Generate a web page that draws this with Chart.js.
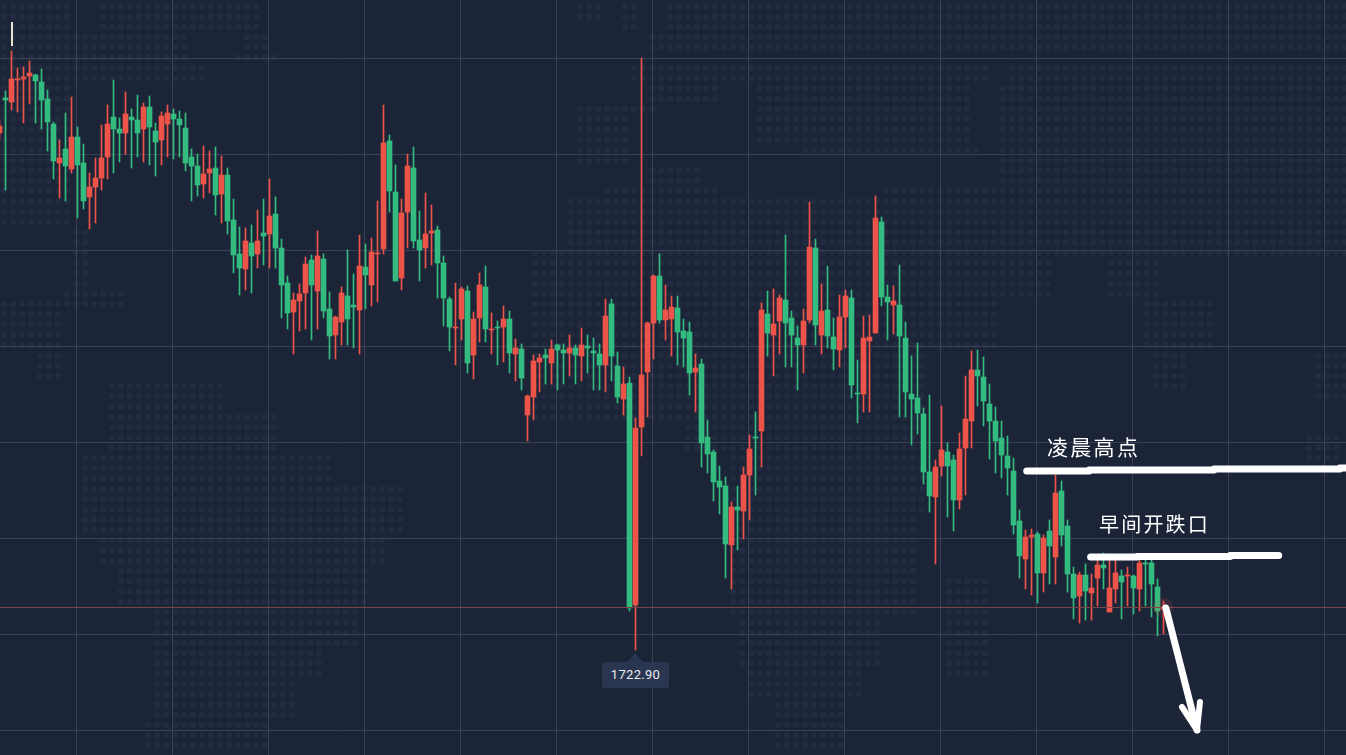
<!DOCTYPE html>
<html>
<head>
<meta charset="utf-8">
<title>K线</title>
<script src="https://cdn.jsdelivr.net/npm/chart.js@4"></script>
<style>
html, body { margin: 0; padding: 0; background: #1c2438; overflow: hidden; }
#wrap { position: relative; width: 1346px; height: 755px; }
canvas { position: absolute; left: 0; top: 0; display: block; }
.note { position: absolute; color: #fff; font-family: "Noto Sans CJK SC", sans-serif; white-space: nowrap; line-height: 1; }
#note1 { left: 1047px; top: 436px; font-size: 21px; letter-spacing: 2.3px; }
#note2 { left: 1099px; top: 514px; font-size: 20px; letter-spacing: 2.2px; }
#cursor { position: absolute; left: 11px; top: 22px; width: 2px; height: 24px; background: #e8e4d4; }
#lowTag { position: absolute; top: 662px; width: 67px; height: 26px; line-height: 26px; text-align: center; background: #2a3550; border-radius: 3px;
  color: #e8ecf2; font-family: Roboto, sans-serif; font-size: 13px; letter-spacing: 0.3px; }
#lowTag:before { content: ""; position: absolute; left: 25px; top: -9px; border-left: 8px solid transparent; border-right: 8px solid transparent; border-bottom: 9px solid #2a3550; }
</style>
</head>
<body>
<div id="wrap">
  <canvas id="graf" width="1346" height="755"></canvas>
  <div id="cursor"></div>
  <div class="note" id="note1">凌晨高点</div>
  <div class="note" id="note2">早间开跌口</div>
  <div id="lowTag"></div>
</div>
<script>
// svíčky přečtené z obrázku
const highs = [
  1775.9,1778.8,1782.8,1781.1,1781.2,1781.8,1780.5,1781.0,1778.9,1775.7,
  1773.9,1776.6,1778.2,1775.2,1773.5,1770.6,1772.1,1775.4,1777.4,1779.9,
  1776.1,1778.7,1777.0,1778.4,1777.6,1778.3,1775.6,1776.7,1777.4,1777.0,
  1776.8,1776.6,1773.0,1772.5,1773.3,1772.8,1773.2,1772.3,1771.1,1768.0,
  1765.2,1765.1,1765.4,1766.9,1768.0,1770.0,1768.2,1764.0,1760.3,1758.6,
  1759.5,1762.2,1762.4,1764.8,1762.5,1758.7,1756.3,1759.2,1762.9,1760.5,
  1764.4,1763.5,1764.1,1767.8,1777.4,1774.4,1771.4,1768.0,1772.5,1773.2,
  1766.8,1768.6,1767.4,1765.3,1762.3,1758.2,1759.6,1759.2,1759.3,1756.7,
  1760.6,1761.3,1756.6,1755.8,1757.3,1756.8,1754.0,1753.5,1748.4,1752.4,
  1752.5,1753.0,1753.9,1753.5,1753.5,1754.4,1753.4,1755.1,1754.4,1754.1,
  1753.5,1758.0,1758.0,1752.7,1751.2,1750.2,1746.1,1782.1,1755.7,1760.4,
  1762.5,1759.4,1758.3,1758.3,1756.0,1755.7,1752.5,1752.0,1745.9,1742.9,
  1741.3,1740.2,1737.7,1739.3,1741.2,1744.4,1746.7,1757.6,1758.8,1759.0,
  1758.4,1764.4,1756.8,1755.3,1757.0,1767.7,1764.0,1759.5,1761.3,1756.1,
  1758.4,1758.9,1758.9,1751.9,1756.3,1756.4,1768.3,1766.2,1759.4,1759.3,
  1761.4,1755.7,1752.3,1753.6,1747.1,1748.4,1741.9,1747.3,1743.6,1742.4,
  1744.6,1750.3,1752.8,1752.9,1752.2,1749.5,1747.2,1745.8,1744.3,1742.1,
  1736.9,1734.9,1735.0,1734.7,1734.4,1735.9,1740.4,1739.8,1735.9,1731.2,
  1730.7,1731.5,1730.5,1731.9,1732.6,1731.9,1731.9,1730.9,1731.2,1730.4,
  1731.9,1731.9,1731.9,1730.0,1727.8
];
const lows = [
  1773.9,1768.9,1776.9,1776.7,1775.6,1777.5,1775.6,1775.0,1772.8,1770.0,
  1768.1,1767.8,1770.6,1766.1,1767.0,1765.0,1765.6,1768.9,1770.0,1770.6,
  1771.7,1772.5,1771.1,1772.2,1771.7,1771.4,1770.3,1771.4,1772.2,1772.0,
  1772.2,1770.8,1767.8,1768.3,1768.1,1768.6,1766.4,1765.6,1764.5,1760.6,
  1758.4,1758.9,1758.6,1761.1,1761.4,1761.1,1761.1,1756.1,1755.0,1752.5,
  1754.8,1755.0,1753.9,1755.0,1756.1,1752.0,1752.0,1753.4,1753.4,1753.1,
  1752.5,1757.0,1757.3,1757.7,1762.5,1766.7,1759.8,1758.9,1763.1,1763.1,
  1759.8,1761.1,1761.4,1758.1,1755.3,1752.8,1751.4,1753.9,1750.6,1750.0,
  1753.7,1753.7,1752.5,1751.4,1751.7,1750.6,1749.8,1748.9,1743.8,1745.9,
  1748.7,1749.5,1749.5,1748.9,1749.5,1750.3,1749.5,1749.8,1750.6,1748.9,
  1748.9,1748.7,1749.8,1747.6,1746.4,1726.8,1722.9,1742.3,1746.2,1752.0,
  1755.6,1753.9,1752.3,1751.4,1751.2,1748.4,1746.7,1741.2,1740.6,1737.8,
  1736.5,1730.1,1729.0,1732.9,1734.0,1735.9,1738.4,1741.2,1752.3,1750.3,
  1752.5,1751.2,1751.2,1748.9,1750.6,1755.6,1753.4,1752.5,1753.1,1750.9,
  1751.2,1753.1,1748.1,1745.6,1746.7,1746.7,1754.6,1757.3,1753.9,1754.5,
  1746.2,1746.2,1743.4,1744.5,1739.5,1736.7,1731.5,1740.3,1736.2,1734.8,
  1737.0,1738.4,1743.1,1747.3,1745.3,1742.0,1740.6,1740.1,1738.4,1734.5,
  1730.1,1729.0,1728.4,1727.6,1728.7,1729.5,1729.5,1733.3,1728.7,1726.0,
  1725.6,1725.9,1725.9,1727.3,1729.0,1726.7,1727.6,1726.0,1727.3,1726.5,
  1726.8,1727.3,1726.2,1724.3,1724.5
];
const opens = [
  1774.6,1778.1,1777.7,1779.9,1780.0,1780.3,1780.4,1779.7,1778.0,1775.5,
  1771.6,1773.0,1771.0,1774.2,1771.6,1768.2,1769.2,1770.1,1772.2,1776.2,
  1775.0,1774.6,1776.2,1775.9,1775.0,1777.2,1774.8,1773.9,1775.5,1776.5,
  1776.0,1775.1,1772.2,1771.3,1769.5,1770.6,1771.1,1768.5,1770.4,1765.9,
  1762.5,1761.0,1763.6,1762.5,1764.6,1764.5,1766.5,1763.1,1759.6,1756.7,
  1757.8,1758.6,1761.9,1758.8,1762.0,1757.0,1754.4,1755.7,1758.3,1757.4,
  1756.9,1761.2,1759.4,1762.5,1763.0,1773.8,1768.7,1760.1,1766.7,1771.1,
  1763.9,1763.1,1764.6,1764.9,1761.6,1758.0,1755.1,1756.0,1758.8,1752.4,
  1756.1,1759.2,1754.9,1755.2,1755.2,1756.0,1752.5,1753.0,1746.4,1748.2,
  1751.7,1752.4,1751.6,1753.4,1752.9,1752.6,1753.1,1752.3,1753.3,1752.8,
  1752.5,1751.4,1757.5,1751.3,1748.0,1749.6,1727.4,1745.2,1750.7,1755.6,
  1760.3,1755.9,1756.0,1757.1,1754.8,1754.7,1750.7,1751.5,1744.2,1742.7,
  1739.8,1739.3,1733.4,1737.2,1736.8,1740.4,1744.2,1744.8,1756.5,1754.4,
  1755.8,1757.9,1756.1,1754.1,1753.4,1755.9,1763.1,1754.4,1756.9,1754.2,
  1752.9,1756.2,1758.1,1748.6,1748.5,1753.8,1754.6,1765.7,1758.2,1757.4,
  1757.4,1754.1,1748.5,1748.1,1746.5,1740.7,1738.2,1741.3,1742.7,1741.9,
  1737.9,1743.1,1745.8,1750.9,1750.2,1747.5,1745.8,1744.1,1742.3,1740.8,
  1735.8,1732.0,1734.2,1734.5,1730.6,1734.8,1732.2,1738.8,1735.3,1730.5,
  1728.3,1730.4,1728.6,1730.1,1731.4,1726.7,1729.0,1730.3,1730.3,1730.3,
  1729.0,1731.6,1731.6,1729.2,1727.0
];
const closes = [
  1775.3,1777.9,1780.0,1780.0,1780.2,1780.6,1779.8,1777.9,1775.7,1771.8,
  1772.1,1771.3,1774.2,1771.4,1767.8,1769.2,1770.1,1772.1,1775.5,1775.0,
  1774.6,1776.5,1775.9,1774.6,1777.2,1775.2,1773.7,1776.3,1776.6,1776.0,
  1775.4,1771.6,1771.3,1769.4,1770.5,1771.0,1768.4,1770.4,1765.8,1762.4,
  1761.1,1763.8,1762.3,1763.8,1764.3,1766.3,1763.1,1759.4,1756.6,1757.9,
  1758.5,1761.5,1759.4,1762.3,1756.8,1754.3,1756.2,1758.6,1756.0,1757.2,
  1761.3,1760.4,1762.7,1762.6,1773.6,1768.8,1759.8,1766.6,1771.3,1763.8,
  1762.9,1764.5,1764.8,1761.6,1758.1,1755.2,1755.2,1759.0,1751.6,1756.0,
  1759.4,1755.0,1755.0,1755.1,1756.0,1752.6,1753.1,1750.1,1748.3,1751.8,
  1752.1,1752.1,1753.0,1752.9,1752.6,1753.1,1752.4,1753.4,1753.1,1752.6,
  1751.4,1756.3,1752.3,1748.2,1749.5,1727.1,1745.1,1750.4,1755.6,1760.3,
  1755.9,1756.9,1757.2,1754.7,1754.1,1750.6,1751.1,1743.6,1742.5,1739.7,
  1739.2,1733.5,1737.2,1736.9,1740.4,1743.0,1744.1,1756.9,1754.6,1755.5,
  1758.1,1755.6,1754.4,1753.4,1755.8,1763.2,1755.4,1756.8,1754.3,1753.0,
  1756.2,1758.3,1749.4,1748.5,1754.1,1754.2,1766.1,1758.2,1757.7,1757.8,
  1754.3,1748.7,1748.0,1746.6,1740.7,1738.3,1741.2,1742.9,1741.3,1737.9,
  1743.0,1746.0,1750.9,1750.3,1747.8,1745.8,1743.8,1742.4,1741.1,1735.4,
  1732.3,1734.2,1734.4,1730.6,1734.1,1733.3,1738.6,1734.4,1730.5,1728.1,
  1730.4,1728.8,1729.1,1731.4,1731.1,1729.1,1730.6,1729.7,1730.4,1729.1,
  1731.6,1731.5,1729.5,1726.8,1727.15
];
const gridIndexes = [12.83,28.83,44.83,60.83,76.83,92.83,108.83,124.83,140.83,156.83,172.83,188.83,204.83,220.83];
const gridPrices = [1782.05,1772.45,1762.85,1753.25,1743.65,1734.05,1724.45,1714.85];
const lowIndex = 106;
const lastIndex = closes.length - 1;

// ručně kreslené čáry na obrázku
const highMarkIdx = [171.2,181.6,202.4,223.4,225];
const highMarkVal = [1740.8,1740.9,1741.0,1741.1,1741.1];
const gapMarkIdx = [181.85,189.6,205.1,213.2];
const gapMarkVal = [1732.2,1732.25,1732.35,1732.35];
const arrowIdx = [194.4,199.58];
const arrowVal = [1727.1,1714.9];
const arrowHeadIdx = [197.08,199.58,200.08];
const arrowHeadVal = [1717.2,1714.9,1717.7];

const UP = "#ec544a", DOWN = "#34bb80";
const BG = "#1c2438", GRID = "#3a4156", DOT = "#232b40";

// tečkovaná mapa na pozadí: obdélníky x0, y0, x1, y1
const mapAreas = [
  [0,0,72,27],[100,0,257,27],[0,27,190,58],[243,37,265,48],[54,58,204,87],[236,55,275,65],
  [0,58,54,225],[54,87,75,225],[75,231,86,284],[65,284,121,308],[0,300,60,350],[40,350,60,385],
  [110,385,220,410],[105,410,280,448],[85,448,330,480],[85,480,400,530],[100,530,390,568],
  [120,568,370,607],[155,607,360,645],[155,645,320,675],[150,675,300,720],[145,720,270,755],
  [575,3,600,17],[620,3,640,33],[670,3,1346,33],[645,33,1346,57],[630,67,985,80],[1010,67,1346,87],
  [645,80,720,100],[755,80,975,143],[995,87,1346,143],[580,105,655,118],[580,118,625,165],
  [800,143,980,160],[1000,143,1346,183],[645,170,700,183],[600,183,720,200],[880,183,1346,200],
  [565,200,1346,257],[560,257,1050,300],[1110,260,1160,300],[530,250,1000,347],[1145,300,1215,347],
  [530,347,930,420],[1155,347,1190,390],[1310,347,1346,400],
  [680,420,930,453],[730,453,925,513],[725,513,920,620],[740,620,885,670],[748,670,865,703],[770,703,843,755],
  [946,580,990,680],[1306,430,1342,467]
];
const mapPlugin = {
  id: "mapa",
  beforeDraw(chart) {
    const c = chart.ctx;
    c.save();
    c.fillStyle = BG;
    c.fillRect(0, 0, chart.width, chart.height);
    c.fillStyle = DOT;
    for (let ry = 6.2; ry < chart.height; ry += 10.27) {
      for (let rx = 4; rx < chart.width; rx += 9) {
        const hit = mapAreas.some(a => rx >= a[0] && rx <= a[2] && ry >= a[1] && ry <= a[3]);
        if (!hit) continue;
        c.beginPath();
        c.arc(rx, ry, 3.2, 0, Math.PI * 2);
        c.fill();
      }
    }
    c.restore();
  }
};

function pairs(xs, ys) { return xs.map((x, i) => ({ x: x, y: ys[i] })); }
function stroke(xs, ys, width, extra) {
  return Object.assign({ type: "line", data: pairs(xs, ys), borderColor: "#ffffff", borderWidth: width,
    borderCapStyle: "round", borderJoinStyle: "round", pointRadius: 0, tension: 0, order: -3 }, extra || {});
}

const candleColors = closes.map((c, i) => c >= opens[i] ? UP : DOWN);

const mujGraf = new Chart(document.getElementById("graf").getContext("2d"), {
  type: "bar",
  data: {
    datasets: [
      stroke(arrowIdx, arrowVal, 7),
      stroke(arrowHeadIdx, arrowHeadVal, 6),
      stroke(highMarkIdx, highMarkVal, 7, { stepped: "before" }),
      stroke(gapMarkIdx, gapMarkVal, 7, { stepped: "before" }),
      { type: "line", data: [{ x: lastIndex, y: closes[lastIndex] }], pointRadius: 10, pointBorderWidth: 0,
        pointBackgroundColor: "rgba(236,84,74,0.13)", showLine: false, order: -2 },
      { type: "line", data: [{ x: lastIndex, y: closes[lastIndex] }], pointRadius: 2, pointBorderWidth: 0,
        pointBackgroundColor: UP, showLine: false, order: -2 },
      { type: "line", data: pairs([0, 225], [closes[lastIndex], closes[lastIndex]]), borderColor: "#7d4448", borderWidth: 1,
        pointRadius: 0, order: -1 },
      { data: closes.map((c, i) => ({ x: i, y: [opens[i], c] })), backgroundColor: candleColors, barThickness: 5, grouped: false, order: 1 },
      { data: highs.map((h, i) => ({ x: i, y: [lows[i], h] })), backgroundColor: candleColors, barThickness: 1, grouped: false, order: 2 }
    ]
  },
  options: {
    responsive: false,
    animation: false,
    layout: { padding: 0, autoPadding: false },
    plugins: { legend: { display: false }, tooltip: { enabled: false } },
    scales: {
      x: {
        type: "linear", offset: false, min: 1 / 12, max: 1 / 12 + 1346 / 6,
        grid: { color: GRID, lineWidth: 1, drawTicks: false, offset: false },
        border: { display: false },
        ticks: { display: false },
        afterBuildTicks(s) { s.ticks = gridIndexes.map(v => ({ value: v })); }
      },
      y: {
        min: 1712.4, max: 1787.9,
        grid: { color: GRID, lineWidth: 1, drawTicks: false },
        border: { display: false },
        ticks: { display: false },
        afterBuildTicks(s) { s.ticks = gridPrices.map(v => ({ value: v })); }
      }
    }
  },
  plugins: [mapPlugin]
});

// štítek s minimem pod dlouhým knotem
const stitek = document.getElementById("lowTag");
stitek.textContent = lows[lowIndex].toFixed(2);
stitek.style.left = (mujGraf.scales.x.getPixelForValue(lowIndex) - 33.5) + "px";
</script>
</body>
</html>
